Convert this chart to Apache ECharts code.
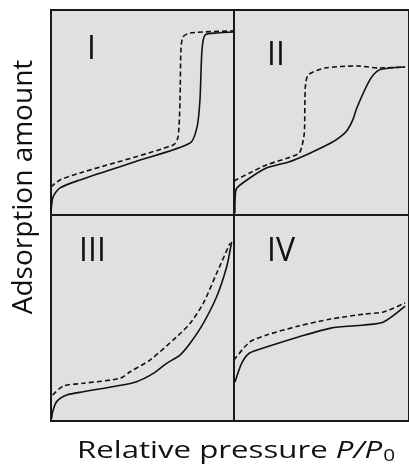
<!DOCTYPE html>
<html>
<head>
<meta charset="utf-8">
<title>Isotherms</title>
<script src="https://cdn.jsdelivr.net/npm/echarts@6/dist/echarts.min.js"></script>
<style>
  html, body { margin: 0; padding: 0; background: #fff; }
  #main { width: 409px; height: 471px; }
</style>
</head>
<body>
<div id="main"></div>
<script>
// panel labels
var panelNames = ['I', 'II', 'III', 'IV'];

// relative pressure (0..1) vs adsorption amount (0..1), solid = adsorption, dashed = desorption
var solidI = [[0, 0.01], [0.011, 0.088], [0.049, 0.132], [0.158, 0.171], [0.46, 0.26], [0.76, 0.351],
    [0.798, 0.429], [0.814, 0.561], [0.825, 0.805], [0.842, 0.878], [0.907, 0.888], [1.0, 0.893]];
var dashI = [[0, 0.137], [0.049, 0.171], [0.158, 0.205], [0.667, 0.341], [0.694, 0.38], [0.705, 0.561],
    [0.71, 0.805], [0.721, 0.868], [0.76, 0.888], [1.0, 0.898]];

var solidII = [[0.005, 0.01], [0.011, 0.122], [0.051, 0.156], [0.189, 0.229], [0.32, 0.259], [0.434, 0.298],
    [0.566, 0.351], [0.615, 0.377], [0.663, 0.415], [0.695, 0.465], [0.72, 0.527], [0.794, 0.659],
    [0.846, 0.707], [0.909, 0.717], [1.0, 0.722]];
var dashII = [[0, 0.166], [0.091, 0.205], [0.189, 0.244], [0.377, 0.298], [0.394, 0.327], [0.411, 0.4],
    [0.417, 0.624], [0.434, 0.683], [0.531, 0.717], [0.72, 0.727], [0.851, 0.717], [1.0, 0.722]];

var solidIII = [[0.003, 0.01], [0.009, 0.045], [0.031, 0.094], [0.086, 0.126], [0.177, 0.142], [0.359, 0.17],
    [0.468, 0.191], [0.559, 0.231], [0.632, 0.28], [0.705, 0.32], [0.76, 0.377], [0.832, 0.474],
    [0.905, 0.603], [0.96, 0.749], [0.987, 0.87]];
var dashIII = [[0.009, 0.126], [0.067, 0.17], [0.177, 0.183], [0.377, 0.207], [0.432, 0.239], [0.541, 0.296],
    [0.687, 0.409], [0.76, 0.474], [0.832, 0.571], [0.905, 0.717], [0.978, 0.863]];

var solidIV = [[0.006, 0.189], [0.046, 0.282], [0.091, 0.33], [0.189, 0.359], [0.377, 0.408], [0.566, 0.451],
    [0.76, 0.466], [0.874, 0.481], [1.0, 0.558]];
var dashIV = [[0, 0.296], [0.091, 0.383], [0.189, 0.417], [0.377, 0.461], [0.566, 0.495], [0.76, 0.519],
    [0.874, 0.529], [1.0, 0.573]];

var solids = [solidI, solidII, solidIII, solidIV];
var dashes = [dashI, dashII, dashIII, dashIV];

var font = "'Open Sans', 'DejaVu Sans', sans-serif";
// right-hand panels run past the picture edge, so their border is not seen
var grids = [
    { left: 51, top: 10, width: 183, height: 205 },
    { left: 234, top: 10, width: 179, height: 205 },
    { left: 51, top: 215, width: 183, height: 206 },
    { left: 234, top: 215, width: 179, height: 206 }
];
var xMax = [1, 179 / 175, 1, 179 / 175];
var labelPos = [[82, 29], [262, 35], [74, 231], [262, 231]];

var chart = echarts.init(document.getElementById('main'));
var option = {
    animation: false,
    backgroundColor: '#fff',
    grid: grids.map(function (g) {
        return Object.assign({ show: true, backgroundColor: '#e0e0e0', borderColor: '#1a1a1a', borderWidth: 2 }, g);
    }),
    xAxis: grids.map(function (g, i) {
        return { type: 'value', gridIndex: i, min: 0, max: xMax[i], show: false };
    }),
    yAxis: grids.map(function (g, i) {
        return { type: 'value', gridIndex: i, min: 0, max: 1, show: false };
    }),
    title: panelNames.map(function (n, i) {
        return {
            text: n, left: labelPos[i][0], top: labelPos[i][1],
            textStyle: { fontFamily: font, fontSize: 32, fontWeight: 'normal', color: '#111' }
        };
    }),
    graphic: [{
        type: 'text',
        x: 24, y: 187,
        rotation: Math.PI / 2,
        style: {
            text: 'Adsorption amount',
            font: '28px ' + font,
            fill: '#111',
            align: 'center',
            verticalAlign: 'middle'
        }
    }, {
        type: 'text',
        x: 77, y: 438,
        scaleX: 1.3,
        style: {
            text: 'Relative pressure {i|P/P}{s|0}',
            font: '24px ' + font,
            fill: '#111',
            align: 'left',
            verticalAlign: 'top',
            rich: {
                i: { font: 'italic 24px ' + font, fill: '#111' },
                s: { font: '16px ' + font, fill: '#111', padding: [10, 0, 0, 1] }
            }
        }
    }],
    series: []
};

for (var i = 0; i < 4; i++) {
    option.series.push({
        type: 'line', xAxisIndex: i, yAxisIndex: i, data: solids[i],
        showSymbol: false, smooth: 0.25,
        lineStyle: { color: '#111', width: 1.6 }
    });
    option.series.push({
        type: 'line', xAxisIndex: i, yAxisIndex: i, data: dashes[i],
        showSymbol: false, smooth: 0.25,
        lineStyle: { color: '#111', width: 1.6, type: [5, 3] }
    });
}

chart.setOption(option);
</script>
</body>
</html>
